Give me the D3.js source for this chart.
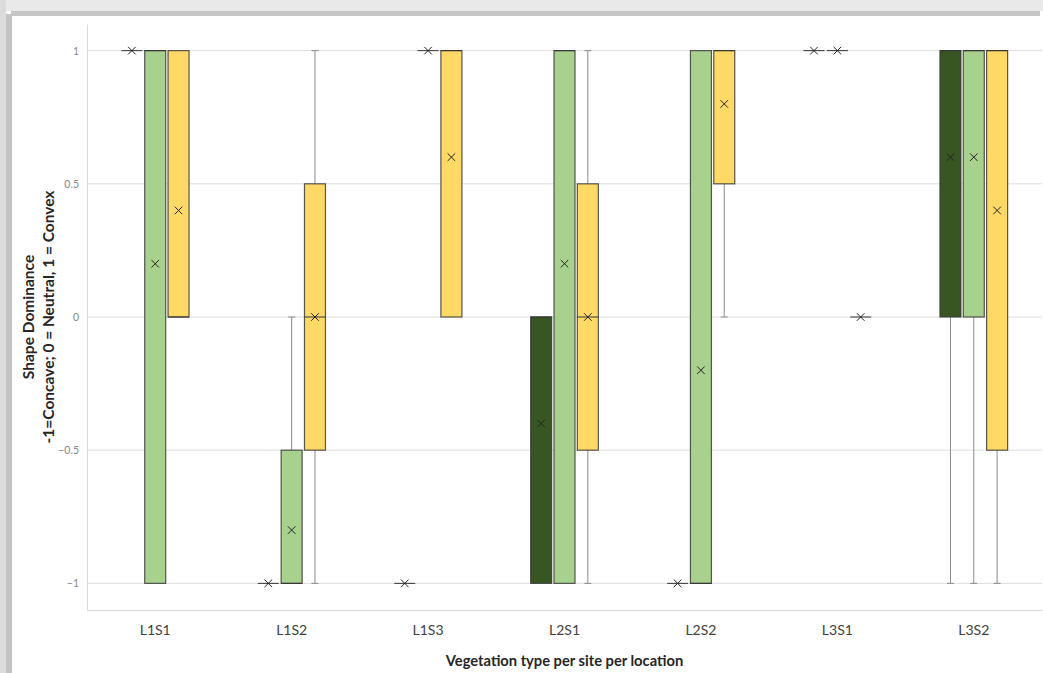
<!DOCTYPE html>
<html>
<head>
<meta charset="utf-8">
<script src="https://cdn.jsdelivr.net/npm/d3@7"></script>
<style>
  body { margin: 0; background: #fff; }
  svg text { font-family: Lato, "Open Sans", sans-serif; }
</style>
</head>
<body>
<div id="chart"></div>
<script>
// categories and series
const categories = ["L1S1", "L1S2", "L1S3", "L2S1", "L2S2", "L3S1", "L3S2"];
const seriesKeys = ["dark", "light", "yellow"];
const seriesColors = ["#375623", "#a9d18e", "#ffd966"];

// [min, q1, median, q3, max] per category
const darkStats = [[1,1,1,1,1], [-1,-1,-1,-1,-1], [-1,-1,-1,-1,-1], [-1,-1,0,0,0], [-1,-1,-1,-1,-1], [1,1,1,1,1], [-1,0,1,1,1]];
const lightStats = [[-1,-1,1,1,1], [-1,-1,-1,-0.5,0], [1,1,1,1,1], [-1,-1,1,1,1], [-1,-1,-1,1,1], [1,1,1,1,1], [-1,0,1,1,1]];
const yellowStats = [[0,0,0,1,1], [-1,-0.5,0,0.5,1], [0,0,1,1,1], [-1,-0.5,0,0.5,1], [0,0.5,1,1,1], [0,0,0,0,0], [-1,-0.5,1,1,1]];

const darkMeans = [1, -1, -1, -0.4, -1, 1, 0.6];
const lightMeans = [0.2, -0.8, 1, 0.2, -0.2, 1, 0.6];
const yellowMeans = [0.4, 0, 0.6, 0, 0.8, 0, 0.4];

const yTicks = [-1, -0.5, 0, 0.5, 1];

const allStats = [darkStats, lightStats, yellowStats];
const allMeans = [darkMeans, lightMeans, yellowMeans];

const W = 1043, H = 673;
const margin = { top: 24, right: 1, bottom: 63, left: 87 };

const svg = d3.select("#chart").append("svg")
  .attr("width", W).attr("height", H);

// shadow frame
svg.append("rect").attr("x", 0).attr("y", 0).attr("width", W).attr("height", 11).attr("fill", "#e9e9e9");
svg.append("rect").attr("x", 11).attr("y", 11).attr("width", 1029).attr("height", 5).attr("fill", "#c6c6c6");
svg.append("rect").attr("x", 0).attr("y", 0).attr("width", 6).attr("height", H).attr("fill", "#dcdcdc");
svg.append("rect").attr("x", 6).attr("y", 14).attr("width", 6).attr("height", H - 14).attr("fill", "#c3c3c3");
svg.append("rect").attr("x", 12).attr("y", 16).attr("width", W - 12).attr("height", H - 16).attr("fill", "#fff");

const x = d3.scaleBand()
  .domain(categories)
  .range([margin.left, W - margin.right]);

const xs = d3.scaleBand()
  .domain(seriesKeys)
  .range([-35, 35])
  .paddingInner(0.1)
  .paddingOuter(0.05);

const y = d3.scaleLinear()
  .domain([-1.1, 1.1])
  .range([H - margin.bottom, margin.top]);

// grid
svg.append("g")
  .selectAll("line")
  .data(yTicks)
  .join("line")
  .attr("x1", margin.left).attr("x2", W - margin.right)
  .attr("y1", d => y(d)).attr("y2", d => y(d))
  .attr("stroke", "#dedede");

// y axis
const yAxis = svg.append("g")
  .attr("transform", `translate(${margin.left},0)`)
  .call(d3.axisLeft(y).tickValues(yTicks).tickSize(0).tickPadding(8).tickFormat(d3.format("")));
yAxis.select(".domain").attr("stroke", "#d9d9d9");
yAxis.selectAll("text").attr("fill", "#888").style("font-size", "10.5px");

// x axis
const xAxis = svg.append("g")
  .attr("transform", `translate(0,${H - margin.bottom})`)
  .call(d3.axisBottom(x).tickSize(0).tickPadding(15));
xAxis.select(".domain").attr("stroke", "#d9d9d9");
xAxis.selectAll("text").attr("fill", "#404040").style("font-size", "14px");

// boxes
const rows = [];
seriesKeys.forEach((k, si) => {
  categories.forEach((c, ci) => {
    const s = allStats[si][ci];
    rows.push({ key: k, cat: c, color: seriesColors[si], min: s[0], q1: s[1], med: s[2], q3: s[3], max: s[4], mean: allMeans[si][ci] });
  });
});

const bw = xs.bandwidth();
const cx = d => x(d.cat) + x.bandwidth() / 2 + xs(d.key) + bw / 2;

const g = svg.append("g");

// whiskers
g.selectAll(".wl")
  .data(rows.filter(d => d.max > d.q3))
  .join("line")
  .attr("x1", cx).attr("x2", cx)
  .attr("y1", d => y(d.q3)).attr("y2", d => y(d.max))
  .attr("stroke", "#8a8a8a");
g.selectAll(".wc")
  .data(rows.filter(d => d.max > d.q3))
  .join("line")
  .attr("x1", d => cx(d) - 3.5).attr("x2", d => cx(d) + 3.5)
  .attr("y1", d => y(d.max)).attr("y2", d => y(d.max))
  .attr("stroke", "#8a8a8a");
g.selectAll(".wl2")
  .data(rows.filter(d => d.min < d.q1))
  .join("line")
  .attr("x1", cx).attr("x2", cx)
  .attr("y1", d => y(d.q1)).attr("y2", d => y(d.min))
  .attr("stroke", "#8a8a8a");
g.selectAll(".wc2")
  .data(rows.filter(d => d.min < d.q1))
  .join("line")
  .attr("x1", d => cx(d) - 3.5).attr("x2", d => cx(d) + 3.5)
  .attr("y1", d => y(d.min)).attr("y2", d => y(d.min))
  .attr("stroke", "#8a8a8a");

g.selectAll("rect.box")
  .data(rows.filter(d => d.q3 > d.q1))
  .join("rect")
  .attr("class", "box")
  .attr("x", d => cx(d) - bw / 2)
  .attr("y", d => y(d.q3))
  .attr("width", bw)
  .attr("height", d => y(d.q1) - y(d.q3))
  .attr("fill", d => d.color)
  .attr("stroke", "#3a3a3a")
  .attr("stroke-width", 1.2)
  .attr("stroke-opacity", 0.85);

// median
g.selectAll(".med")
  .data(rows)
  .join("line")
  .attr("x1", d => cx(d) - bw / 2).attr("x2", d => cx(d) + bw / 2)
  .attr("y1", d => y(d.med)).attr("y2", d => y(d.med))
  .attr("stroke", "#333");

// mean markers
const mk = g.selectAll(".mean")
  .data(rows)
  .join("g")
  .attr("transform", d => `translate(${cx(d)},${y(d.mean)})`);
mk.append("line").attr("x1", -3.8).attr("y1", -3.8).attr("x2", 3.8).attr("y2", 3.8).attr("stroke", "#222");
mk.append("line").attr("x1", -3.8).attr("y1", 3.8).attr("x2", 3.8).attr("y2", -3.8).attr("stroke", "#222");

// titles
svg.append("text")
  .attr("x", (margin.left + W - margin.right) / 2)
  .attr("y", 666)
  .attr("text-anchor", "middle")
  .attr("fill", "#262626")
  .style("font-size", "14.7px")
  .style("font-weight", "bold")
  .text("Vegetation type per site per location");

const yt = svg.append("text")
  .attr("transform", `translate(34,${y(0)}) rotate(-90)`)
  .attr("text-anchor", "middle")
  .attr("fill", "#262626")
  .style("font-size", "15.5px")
  .style("font-weight", "bold");
yt.append("tspan").attr("x", 0).attr("dy", 0).text("Shape Dominance");
yt.append("tspan").attr("x", 0).attr("dy", 20).text("-1=Concave; 0 = Neutral, 1 = Convex");
</script>
</body>
</html>
